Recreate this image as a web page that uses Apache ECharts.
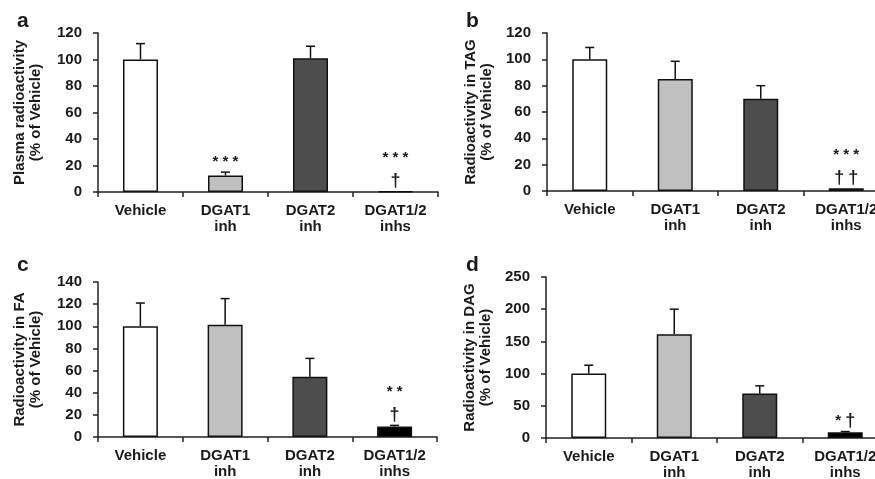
<!DOCTYPE html>
<html>
<head>
<meta charset="utf-8">
<script src="https://cdn.jsdelivr.net/npm/echarts@6/dist/echarts.min.js"></script>
<style>
html,body{margin:0;padding:0;background:#fff;}
#chart{width:875px;height:479px;}
</style>
</head>
<body>
<div id="chart"></div>
<script>
// ---- data ----
const categories = ['Vehicle', 'DGAT1\ninh', 'DGAT2\ninh', 'DGAT1/2\ninhs'];
const barColors = ['#ffffff', '#c0c0c0', '#4d4d4d', '#000000'];

const panelLetters = ['a', 'b', 'c', 'd'];
const yNames = [
  'Plasma radioactivity\n(% of Vehicle)',
  'Radioactivity in TAG\n(% of Vehicle)',
  'Radioactivity in FA\n(% of Vehicle)',
  'Radioactivity in DAG\n(% of Vehicle)'
];
const yMax = [120, 120, 140, 250];
const yInterval = [20, 20, 20, 50];

const plasmaMean = [100, 12.5, 101, 0.5];
const plasmaErr  = [12, 2.5, 9, 0];
const tagMean = [100, 85, 70, 2];
const tagErr  = [9, 13.5, 10, 0];
const faMean = [100, 101.5, 54.5, 9.5];
const faErr  = [21, 23.5, 16.5, 1];
const dagMean = [100, 161, 69, 9];
const dagErr  = [13, 39, 12, 1];

const plasmaSig = ['', '* * *', '', '* * *\n\u2020'];
const tagSig    = ['', '', '', '* * *\n\u2020 \u2020'];
const faSig     = ['', '', '', '* *\n\u2020'];
const dagSig    = ['', '', '', '* \u2020'];

const means = [plasmaMean, tagMean, faMean, dagMean];
const errs = [plasmaErr, tagErr, faErr, dagErr];
const sigs = [plasmaSig, tagSig, faSig, dagSig];

// ---- layout ----
const grids = [
  {left: 98, width: 340, top: 33, height: 159, outerBoundsMode: 'none', containLabel: false},
  {left: 547, width: 342, top: 33, height: 158, outerBoundsMode: 'none', containLabel: false},
  {left: 98, width: 339, top: 282, height: 155, outerBoundsMode: 'none', containLabel: false},
  {left: 546, width: 342, top: 277, height: 161, outerBoundsMode: 'none', containLabel: false}
];
const letterPos = [[12, 6], [461, 6], [12, 250], [461, 250]];
const nameGaps = [54, 52, 54, 52];

const FONT = '"Liberation Sans", Arial, sans-serif';
const TXT = '#1a1a1a';

function richSig(t) {
  return t.split('\n').map(line =>
    line.split('').map(ch => ch === '*' ? '{s|*}' : (ch === '\u2020' ? '{d|\u2020}' : '{g| }')).join('')
  ).join('\n');
}

const xAxes = [], yAxes = [], series = [], titles = [];
for (let p = 0; p < 4; p++) {
  titles.push({
    text: panelLetters[p], left: letterPos[p][0], top: letterPos[p][1],
    textStyle: {fontFamily: FONT, fontSize: 21, fontWeight: 'bold', color: TXT}
  });
  xAxes.push({
    type: 'category', gridIndex: p, data: categories,
    axisLine: {lineStyle: {color: '#222', width: 1.5}},
    axisTick: {show: true, length: 5, lineStyle: {color: '#222', width: 1.5}},
    axisLabel: {fontFamily: FONT, fontSize: 15, fontWeight: 'bold', color: TXT, margin: 11, lineHeight: 16, interval: 0}
  });
  yAxes.push({
    type: 'value', gridIndex: p, min: 0, max: yMax[p], interval: yInterval[p],
    name: yNames[p], nameLocation: 'middle', nameGap: nameGaps[p], nameRotate: 90,
    nameMoveOverlap: false,
    nameTextStyle: {fontFamily: FONT, fontSize: 15, fontWeight: 'bold', color: TXT, lineHeight: 16},
    axisLine: {show: true, lineStyle: {color: '#222', width: 1.5}},
    axisTick: {show: true, length: 5, lineStyle: {color: '#222', width: 1.5}},
    splitLine: {show: false},
    axisLabel: {fontFamily: FONT, fontSize: 15, fontWeight: 'bold', color: TXT, margin: 16}
  });
  series.push({
    type: 'bar', xAxisIndex: p, yAxisIndex: p, barWidth: 35,
    data: means[p].map((v, i) => ({value: v, itemStyle: {color: barColors[i], borderColor: '#111', borderWidth: 1.5}})),
    z: 2
  });
  const m = means[p], e = errs[p], s = sigs[p];
  series.push({
    type: 'custom', xAxisIndex: p, yAxisIndex: p, z: 3,
    data: m.map((v, i) => [i, v, v + e[i]]),
    renderItem: function (params, api) {
      const i = api.value(0);
      const base = api.coord([i, api.value(1)]);
      const top = api.coord([i, api.value(2)]);
      if (Math.abs(base[1] - top[1]) < 0.5) return null;
      return {
        type: 'group',
        children: [
          {type: 'line', shape: {x1: base[0], y1: base[1], x2: top[0], y2: top[1]}, style: {stroke: '#111', lineWidth: 1.5}},
          {type: 'line', shape: {x1: top[0] - 4.5, y1: top[1], x2: top[0] + 4.5, y2: top[1]}, style: {stroke: '#111', lineWidth: 1.5}}
        ]
      };
    }
  });
  series.push({
    type: 'custom', xAxisIndex: p, yAxisIndex: p, z: 4,
    data: m.map((v, i) => [i, v + e[i], s[i]]),
    renderItem: function (params, api) {
      const i = api.value(0);
      const txt = s[i];
      if (!txt) return null;
      const top = api.coord([i, api.value(1)]);
      return {
        type: 'text',
        style: {
          x: top[0], y: top[1] + 1, text: richSig(txt),
          align: 'center', verticalAlign: 'bottom',
          fontFamily: FONT, fontSize: 16, fontWeight: 'bold', lineHeight: 23, fill: TXT,
          rich: {
            s: {fontFamily: FONT, fontSize: 15, fontWeight: 'bold', lineHeight: 23, fill: TXT, color: TXT},
            d: {fontFamily: FONT, fontSize: 18, fontWeight: 'bold', lineHeight: 23, fill: TXT, color: TXT},
            g: {fontFamily: FONT, fontSize: 15, lineHeight: 23}
          }
        }
      };
    }
  });
}

const chart = echarts.init(document.getElementById('chart'), null, {renderer: 'canvas'});
chart.setOption({
  animation: false,
  backgroundColor: '#ffffff',
  title: titles,
  grid: grids,
  xAxis: xAxes,
  yAxis: yAxes,
  series: series
});
</script>
</body>
</html>
